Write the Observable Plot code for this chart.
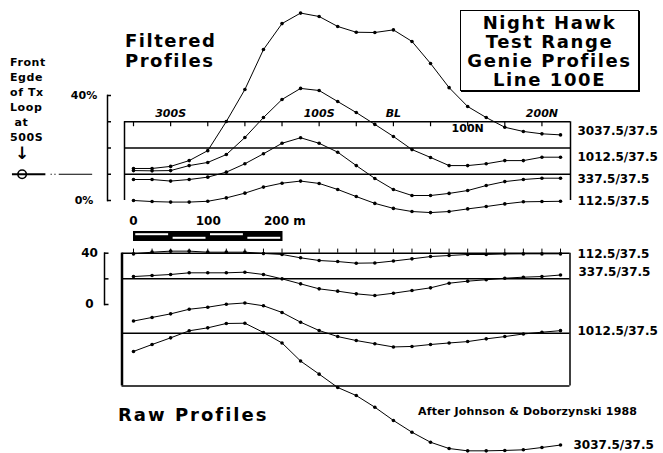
<!DOCTYPE html>
<html><head><meta charset="utf-8">
<script src="https://cdn.jsdelivr.net/npm/d3@7"></script>
<script src="https://cdn.jsdelivr.net/npm/@observablehq/plot@0.6"></script>
<style>
body{margin:0;background:#fff;}
#wrap{position:relative;width:663px;height:453px;overflow:hidden;font-family:"DejaVu Sans",sans-serif;font-weight:bold;color:#000;background:#fff;}
#wrap svg{position:absolute;left:0;top:0;}
.t{position:absolute;white-space:pre;}
</style></head><body><div id="wrap"></div>
<script>
// ---------- data ----------
const stations = [-350,-325,-300,-275,-250,-225,-200,-175,-150,-125,-100,-75,-50,-25,0,25,50,75,100,125,150,175,200,225];
const seriesNames = ["3037.5/37.5","1012.5/37.5","337.5/37.5","112.5/37.5"];
// Filtered profiles (% , offset-stacked as drawn)
const filt3037 = [12.2,12.2,13.0,15.2,19.0,30.1,42.3,57.5,67.4,71.4,70.1,66.3,64.1,64.0,65.0,60.6,52.2,43.0,35.8,31.6,27.9,26.3,25.4,25.0];
const filt1012 = [11.4,11.3,11.4,13.3,14.5,17.5,24.0,31.6,38.5,42.7,41.9,37.7,33.5,29.0,24.4,19.4,16.4,13.3,13.3,14.0,15.2,15.2,16.5,16.5];
const filt337  = [8.0,8.0,7.4,8.0,8.9,10.8,14.0,17.8,21.8,23.9,21.8,18.4,13.3,8.4,4.2,1.9,1.9,2.7,3.8,5.7,7.2,8.0,8.5,8.5];
const filt112  = [0,-0.4,-0.6,-0.6,-0.3,1.0,2.8,5.1,6.6,7.4,6.5,4.2,1.5,-1.1,-3.0,-4.2,-4.6,-4.2,-3.2,-2.3,-1.3,-0.5,-0.4,-0.3];
// Raw profiles (offset-stacked as drawn)
const raw112  = [39.5,40.8,41.6,41.6,40.8,40.8,40.8,39.8,39.0,36.4,34.3,33.5,32.2,32.4,33.9,35.6,37.4,38.2,39.0,39.0,39.4,39.5,39.5,39.5];
const raw337  = [21.8,22.6,23.4,24.7,24.7,24.7,25.2,23.4,20.0,16.1,12.2,10.4,8.3,7.0,8.8,10.9,13.0,16.6,18.2,19.3,20.5,21.3,21.8,23.0];
const raw1012 = [-12.9,-10.1,-7.3,-3.7,-2.1,0.2,1.2,-1.0,-6.2,-13.8,-20.3,-25.0,-28.1,-30.6,-33.1,-32.7,-31.2,-30.0,-28.9,-26.8,-25.0,-23.0,-21.6,-20.4];
const raw3037 = [-36.6,-31.2,-26.0,-20.5,-18.2,-14.8,-14.6,-21.8,-30.0,-44.1,-54.3,-64.7,-71.0,-80.1,-90.4,-99.6,-107.4,-112.3,-114.1,-114.1,-113.8,-113.3,-111.5,-109.6];
// station labels
const topLabelStations = [-300,-100,0,200];
const topLabels = ["300S","100S","BL","200N"];
const innerLabelStations = [100];
const innerLabels = ["100N"];
const tickStations50 = [-350,-300,-250,-200,-150,-100,-50,0,50,100,150,200];
const filtTicks = [0,10,20,30,40];
const filtTickLabels = [0,40];
const rawTicks = [0,20,40];
const rawTickLabels = [0,40];
const filtBaselines = [10,20,30];
const rawBaselines = [40,20,-22.4,-63.5];
const scaleTicks = [0,100,200];
const scaleTickLabels = ["0","100","200 m"];
const scaleSegments = [0,50,100,150];
const loopStation = -500;

// ---------- build tables ----------
const rowsOf = (arrs) => arrs.flatMap((a, k) => a.map((v, i) => ({s: stations[i], v, series: seriesNames[k]})));
const filtRows = rowsOf([filt3037, filt1012, filt337, filt112]);
const rawRows = rowsOf([raw3037, raw1012, raw337, raw112]);
const filtLast = [filt3037, filt1012, filt337, filt112].map(a => a[a.length-1]);
const rawLast = [raw3037, raw1012, raw337, raw112].map(a => a[a.length-1]);
const lastStation = stations[stations.length-1];

const W = 663, H = 453;
const FONT = "DejaVu Sans";
const xDomain = [stations[0], lastStation], xRange = [133, 560];
const xOpt = {domain: xDomain, range: xRange, axis: null};
// pixel -> station metres (inverse of the x scale), used only for frame furniture
const invX = px => xDomain[0] + (px - xRange[0]) * (xDomain[1] - xDomain[0]) / (xRange[1] - xRange[0]);
const style = {background: "transparent", fontFamily: FONT, overflow: "visible"};
const boxTop = [invX(124), invX(570)];
const boxRaw = [invX(121.5), invX(569.5)];
const filtSpine = 107, rawSpine = 104;

function labelMarks(last, dys, dxs) {
  return seriesNames.map((name, k) => Plot.text([name], {
    x: lastStation, y: last[k], text: d => d, textAnchor: "start",
    dx: dxs[k], dy: dys[k], fontSize: 12, fontWeight: "bold", fill: "black"
  }));
}

const topPlot = Plot.plot({
  width: W, height: H, marginLeft: filtSpine, marginRight: 93, marginTop: 95, marginBottom: 253,
  x: xOpt, y: {domain: [0, 40], axis: null, label: null}, style,
  marks: [
    Plot.frame({anchor: "left", strokeWidth: 1.5}),
    Plot.ruleY(filtTicks, {x1: invX(filtSpine), x2: invX(filtSpine + 4), strokeWidth: 1.5}),
    Plot.text(filtTickLabels, {y: d => d, text: d => d + "%", frameAnchor: "left", dx: -23.5, textAnchor: "middle", fontSize: 11, fontWeight: "bold"}),
    Plot.ruleY(filtBaselines, {x1: boxTop[0], x2: boxTop[1], strokeWidth: 1.5}),
    Plot.ruleX(boxTop, {y1: 0, y2: 30, strokeWidth: 1.5}),
    Plot.ruleX(tickStations50, {y1: 30, y2: 28.1, strokeWidth: 1.2}),
    Plot.text(topLabels, {x: (d, i) => topLabelStations[i], y: 30, dy: -8, text: d => d, fontSize: 11, fontWeight: "bold", fontStyle: "italic"}),
    Plot.text(innerLabels, {x: (d, i) => innerLabelStations[i], y: 30, dy: 7, text: d => d, fontSize: 11, fontWeight: "bold"}),
    Plot.line(filtRows, {x: "s", y: "v", z: "series", stroke: "black", strokeWidth: 1, curve: "linear"}),
    Plot.dot(filtRows, {x: "s", y: "v", r: 1.8, fill: "black"}),
    ...labelMarks(filtLast, [-4, 0, 1, 0], [17, 17, 17, 17]),
    // front edge of Tx loop marker
    Plot.dot([loopStation], {x: d => d, y: 10, r: 4.2, fill: "white", stroke: "black", strokeWidth: 1.6}),
    Plot.ruleY([10], {x1: loopStation - 13, x2: loopStation + 32, strokeWidth: 1.8}),
    Plot.ruleY([10], {x1: loopStation + 39, x2: loopStation + 48, strokeWidth: 1.2, strokeDasharray: "1.2,2.6"}),
    Plot.ruleY([10], {x1: loopStation + 50, x2: loopStation + 95, strokeWidth: 1}),
    Plot.text(["↓"], {x: loopStation, y: 18, text: d => d, fontSize: 17, fontWeight: "bold"})
  ]
});

const rawPlot = Plot.plot({
  width: W, height: H, marginLeft: rawSpine, marginRight: 93, marginTop: 252.7, marginBottom: 149,
  x: xOpt, y: {domain: [0, 40], axis: null, label: null}, style,
  marks: [
    Plot.frame({anchor: "left", strokeWidth: 1.5}),
    Plot.ruleY(rawTicks, {x1: invX(rawSpine), x2: invX(rawSpine + 4.5), strokeWidth: 1.5}),
    Plot.text(rawTickLabels, {y: d => d, text: d => String(d), frameAnchor: "left", dx: -15, textAnchor: "middle", fontSize: 12, fontWeight: "bold"}),
    Plot.ruleY(rawBaselines, {x1: boxRaw[0], x2: boxRaw[1], strokeWidth: 1.5}),
    Plot.ruleX([boxRaw[0]], {y1: rawBaselines[3], y2: rawBaselines[0], strokeWidth: 2.5}),
    Plot.ruleX([boxRaw[1]], {y1: rawBaselines[3], y2: rawBaselines[0], strokeWidth: 1.5}),
    Plot.ruleX(stations, {y1: 40, y2: 43.2, strokeWidth: 1}),
    Plot.line(rawRows, {x: "s", y: "v", z: "series", stroke: "black", strokeWidth: 1}),
    Plot.dot(rawRows, {x: "s", y: "v", r: 1.8, fill: "black"}),
    ...labelMarks(rawLast, [0, 0, -3, 0], [13, 17, 18, 17])
  ]
});

const scalePlot = Plot.plot({
  width: W, height: H,
  x: {domain: [0, 200], range: [133, 282.5], axis: null},
  y: {domain: [0, 1], range: [241, 231], axis: null}, style,
  marks: [
    Plot.rect([0], {x1: 0, x2: 200, y1: 0, y2: 1, fill: "black"}),
    Plot.rect(scaleSegments, {x1: d => d + 3, x2: d => d + 47, y1: (d, i) => i % 2 ? 0.22 : 0.58, y2: (d, i) => i % 2 ? 0.42 : 0.78, fill: "white"}),
    Plot.text(scaleTickLabels.slice(0, 2), {x: (d, i) => scaleTicks[i], y: 1, dy: -10, text: d => d, fontSize: 12, fontWeight: "bold"}),
    Plot.text(scaleTickLabels.slice(2), {x: scaleTicks[2], y: 1, dy: -10, dx: -19, text: d => d, textAnchor: "start", fontSize: 12, fontWeight: "bold"})
  ]
});

const wrap = document.getElementById("wrap");
[scalePlot, rawPlot, topPlot].forEach(p => wrap.appendChild(p));

// ---------- text annotations ----------
function addText(txt, css) {
  const d = document.createElement("div");
  d.className = "t";
  d.textContent = txt;
  Object.assign(d.style, css);
  wrap.appendChild(d);
  return d;
}
addText("Filtered\nProfiles", {left: "125px", top: "31px", fontSize: "18px", lineHeight: "20px", letterSpacing: "1.5px"});
addText("Raw Profiles", {left: "118px", top: "405px", fontSize: "18px", lineHeight: "20px", letterSpacing: "2px"});
addText("After Johnson & Doborzynski 1988", {left: "418px", top: "405px", fontSize: "11px", lineHeight: "14px", letterSpacing: "0.2px"});
addText("Front\nEgde\nof Tx\nLoop\n at\n500S", {left: "10px", top: "55px", fontSize: "11px", lineHeight: "15px", letterSpacing: "0.6px"});
addText("Night Hawk\nTest Range\nGenie Profiles\nLine 100E", {left: "460px", top: "10px", width: "177px", height: "77px", paddingTop: "2px", textAlign: "center", fontSize: "18px", lineHeight: "19px", letterSpacing: "1.6px", border: "1.5px solid #000", boxShadow: "1px 1px 0 #000", background: "#fff"});
</script></body></html>
